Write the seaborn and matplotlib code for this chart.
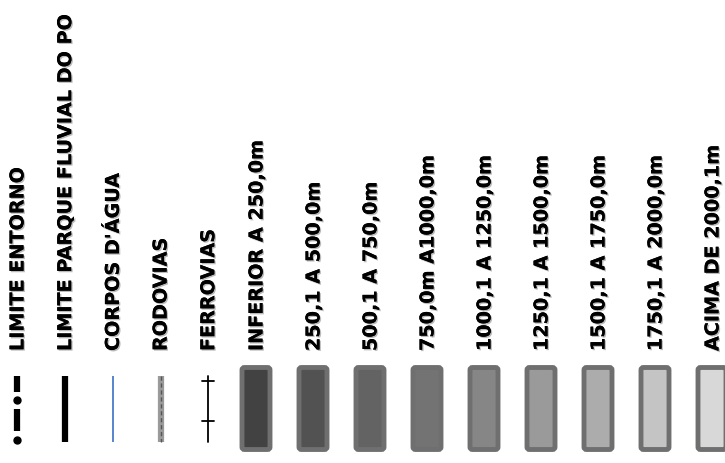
import matplotlib
matplotlib.use("Agg")
import matplotlib.pyplot as plt
import matplotlib.patheffects as pe
from matplotlib.patches import FancyBboxPatch
import seaborn as sns

# ---- data ----
line_labels = ["LIMITE ENTORNO", "LIMITE PARQUE FLUVIAL DO PO", "CORPOS D'ÁGUA",
               "RODOVIAS", "FERROVIAS"]
bin_labels = ["INFERIOR A 250,0m", "250,1 A 500,0m", "500,1 A 750,0m",
              "750,0m A1000,0m", "1000,1 A 1250,0m", "1250,1 A 1500,0m",
              "1500,1 A 1750,0m", "1750,1 A 2000,0m", "ACIMA DE 2000,1m"]
bin_fills = ["#424242", "#525252", "#636363", "#737373", "#868686",
             "#9a9a9a", "#acacac", "#c4c4c4", "#d8d8d8"]

sns.set_theme(style="white")
plt.rcParams['font.family'] = ['DejaVu Sans']

W, H = 725, 464
fig = plt.figure(figsize=(W / 100, H / 100), dpi=100)
ax = fig.add_axes([0, 0, 1, 1])
ax.set_xlim(0, W)
ax.set_ylim(H, 0)
ax.axis("off")

text_bottom = 352
fs = 13.8
shadow = [pe.withSimplePatchShadow(offset=(1, -1), shadow_rgbFace="#777777", alpha=0.5),
          pe.Normal()]

# line-type items
lx0, lstep = 17.5, 47.7
ytop, ybot = 377, 443
for i, lab in enumerate(line_labels):
    x = lx0 + i * lstep
    ax.text(x + 0.5, text_bottom, lab, rotation=90, ha="center", va="bottom",
            fontsize=fs, fontweight="bold", color="black", path_effects=shadow)
    if i == 0:
        ax.plot([x, x], [377, 393], color="black", lw=4.5, solid_capstyle="butt")
        ax.plot([x, x], [410, 432], color="black", lw=4.5, solid_capstyle="butt")
        ax.plot([x, x], [401, 441], ls="none", marker="o", ms=5, color="black")
    elif i == 1:
        ax.plot([x, x], [ytop, ybot], color="black", lw=4.5, solid_capstyle="butt")
    elif i == 2:
        ax.plot([x, x], [ytop, ybot], color="#3a6fc4", lw=1.2, solid_capstyle="butt")
    elif i == 3:
        ax.plot([x, x], [ytop, ybot], color="#9a9a9a", lw=4.5, solid_capstyle="butt")
        ax.plot([x, x], [ytop, ybot], color="#555555", lw=1.0, ls=(0, (3, 2)))
    elif i == 4:
        ax.plot([x, x], [ytop, ybot], color="black", lw=1.3)
        for ty in (382, 422):
            ax.plot([x - 6, x + 6], [ty, ty], color="black", lw=1.3)

# elevation bins
bx0, bstep = 256, 57
bw, bh = 31, 85
for i, (lab, fc) in enumerate(zip(bin_labels, bin_fills)):
    x = bx0 + i * bstep
    ax.text(x + 1, text_bottom, lab, rotation=90, ha="center", va="bottom",
            fontsize=fs, fontweight="bold", color="black", path_effects=shadow)
    p = FancyBboxPatch((x - bw / 2 + 1.5, 368.5), bw - 3, bh - 3,
                       boxstyle="round,pad=0,rounding_size=2.5",
                       facecolor=fc, edgecolor="#6f6f6f", linewidth=3.5)
    ax.add_patch(p)

fig.savefig("out.png", dpi=100, facecolor="white")
